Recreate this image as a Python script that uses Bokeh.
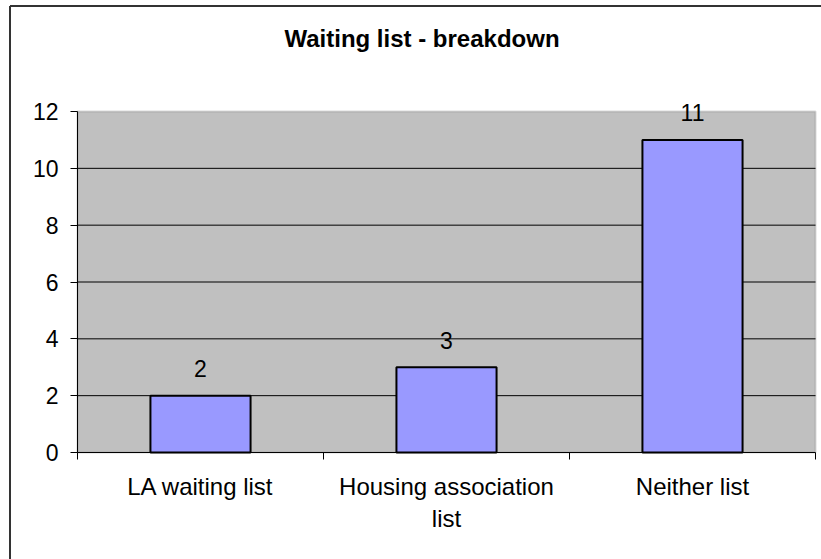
from bokeh.plotting import figure
from bokeh.models import (Range1d, LinearAxis, FixedTicker, Label, BoxAnnotation,
                          ColumnDataSource)
from bokeh.core.properties import value
from bokeh.embed import file_html
from bokeh.resources import INLINE

# ---- data ----
categories = ["LA waiting list", "Housing association\nlist", "Neither list"]
counts = [2, 3, 11]
count_labels = [str(v) for v in counts]
y_ticks = [0, 2, 4, 6, 8, 10, 12]
title_text = "Waiting list - breakdown"

FONT = "Liberation Sans"

# ---- layout (pixels) ----
W, H = 821, 559
PL, PR, PT, PB = 77, 815, 111, 452          # plot-area box on the canvas
BX, BY = 9.5, 5.5                            # outer chart border (left, top)
n = len(categories)
y_max = y_ticks[-1]
sx = (PR - PL) / n
sy = (PB - PT) / y_max
x_lo, x_hi = -PL / sx, n + (W - PR) / sx
y_lo, y_hi = -(H - PB) / sy, y_max + PT / sy

centers = [i + 0.5 for i in range(n)]
edges = list(range(n + 1))

p = figure(width=W, height=H, x_range=Range1d(x_lo, x_hi),
           y_range=Range1d(y_lo, y_hi), output_backend="svg",
           toolbar_location=None, x_axis_location=None, y_axis_location=None,
           min_border=0)
p.title.visible = False
p.background_fill_color = "white"
p.border_fill_color = "white"
p.outline_line_color = None
p.xgrid.visible = False
p.ygrid.visible = False

# grey plot area
area = BoxAnnotation(left=0, right=n, bottom=0, top=y_max,
                     fill_color="#C0C0C0", fill_alpha=1,
                     line_color="#808080", line_width=2, level="image")
p.add_layout(area)

# horizontal gridlines
ygrid_ticks = [t for t in y_ticks if 0 < t < y_max]
p.segment(x0=[0] * len(ygrid_ticks), x1=[n] * len(ygrid_ticks),
          y0=ygrid_ticks, y1=ygrid_ticks, line_color="black", line_width=1,
          level="underlay")

# y axis
ya = LinearAxis(ticker=FixedTicker(ticks=y_ticks), fixed_location=0,
                bounds=(0, y_max))
ya.axis_line_color = "black"
ya.axis_line_width = 1
ya.major_tick_line_color = "black"
ya.major_tick_out = 7
ya.major_tick_in = 0
ya.minor_tick_line_color = None
ya.major_label_standoff = 12
ya.major_label_text_font = FONT
ya.major_label_text_font_size = "23px"
ya.major_label_text_color = "black"
p.add_layout(ya, "left")

# x axis: boundary ticks
edge_axis = LinearAxis(ticker=FixedTicker(ticks=edges), fixed_location=0,
                       bounds=(0, n))
edge_axis.axis_line_color = "black"
edge_axis.axis_line_width = 1
edge_axis.major_tick_line_color = "black"
edge_axis.major_tick_out = 7
edge_axis.major_tick_in = 0
edge_axis.minor_tick_line_color = None
edge_axis.major_label_text_alpha = 0
edge_axis.major_label_text_font_size = "1px"
p.add_layout(edge_axis, "below")

# x axis: category labels at centers
cat_axis = LinearAxis(ticker=FixedTicker(ticks=centers), fixed_location=0)
cat_axis.major_label_overrides = {c: lab for c, lab in zip(centers, categories)}
cat_axis.axis_line_color = None
cat_axis.major_tick_line_color = None
cat_axis.minor_tick_line_color = None
cat_axis.major_tick_out = 0
cat_axis.major_tick_in = 0
cat_axis.major_label_standoff = 20
cat_axis.major_label_text_font = FONT
cat_axis.major_label_text_font_size = "24px"
cat_axis.major_label_text_color = "black"
p.add_layout(cat_axis, "below")

src = ColumnDataSource(dict(x=centers, val=counts, lab=count_labels))

p.vbar(x="x", top="val", bottom=0, width=0.407, source=src,
       fill_color="#9999FF", line_color="black", line_width=2)

p.text(x="x", y="val", text="lab", source=src, y_offset=-27,
       text_align="center", text_baseline="middle",
       text_font=value(FONT), text_font_size="23px", text_color="black")

title = Label(x=421.5, y=H - 37.5, x_units="screen", y_units="screen",
              text=title_text, text_align="center", text_baseline="middle",
              text_font=FONT, text_font_size="24px", text_font_style="bold",
              text_color="black")
p.add_layout(title)

# outer chart border: only its left and top edges fall inside the picture
bx = x_lo + BX / sx
by = y_hi - BY / sy
p.segment(x0=[bx, bx], y0=[y_lo, by], x1=[bx, x_hi], y1=[by, by],
          line_color="#333333", line_width=2, level="overlay")

open("out.html", "w").write(file_html(p, INLINE))
